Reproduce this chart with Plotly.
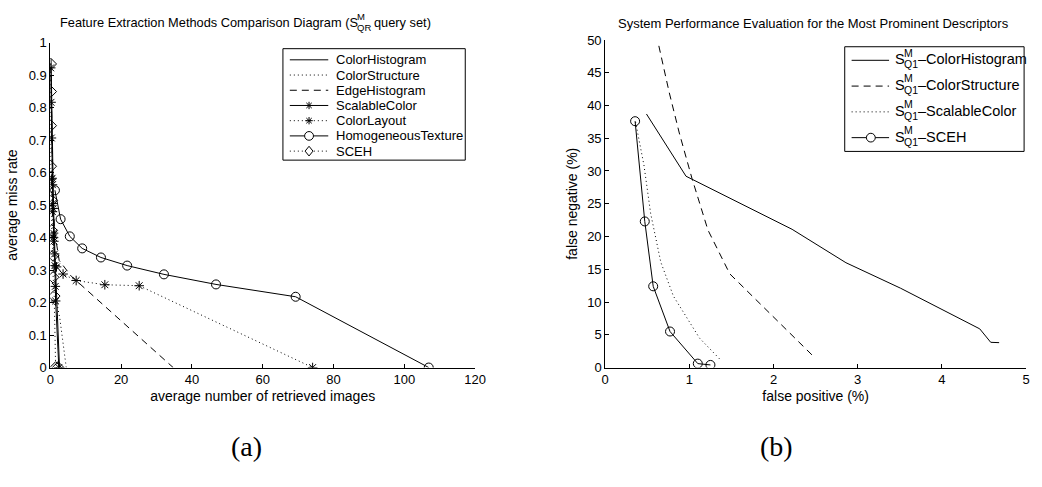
import plotly.graph_objects as go

W, H = 1042, 487

# ---------------- Left panel data (a) ----------------
ch_x = [0.2, 0.4, 0.6, 0.9, 1.3, 1.8, 2.6]
ch_y = [0.95, 0.80, 0.65, 0.50, 0.35, 0.22, 0.0]

cs_x = [0.2, 0.4, 0.7, 1.0, 1.5, 2.7, 4.5]
cs_y = [0.90, 0.70, 0.50, 0.35, 0.22, 0.15, 0.0]

eh_x = [0.2, 0.4, 0.7, 1.2, 2.5, 6.0, 7.3, 34.7]
eh_y = [0.90, 0.70, 0.55, 0.42, 0.33, 0.28, 0.268, 0.0]

sc_x = [0.1, 0.2, 0.3, 0.5, 0.6, 0.7, 0.8, 0.9, 1.0, 1.3, 1.4, 1.5, 2.4]
sc_y = [0.923, 0.817, 0.707, 0.583, 0.563, 0.505, 0.49, 0.414, 0.389, 0.314, 0.25, 0.205, 0.0]

cl_x = [0.3, 0.6, 0.9, 1.2, 1.75, 3.6, 7.3, 15.4, 25.1, 74.1]
cl_y = [0.58, 0.48, 0.40, 0.35, 0.31, 0.288, 0.268, 0.255, 0.252, 0.0]

ht_x = [1.3, 2.9, 5.5, 9.0, 14.3, 21.7, 32.1, 46.8, 69.3, 106.9]
ht_y = [0.546, 0.457, 0.404, 0.367, 0.339, 0.314, 0.287, 0.256, 0.218, 0.0]

sceh_x = [0.1, 0.1, 0.1, 0.1, 0.4, 0.4, 0.8, 0.8, 1.1, 1.5, 2.2]
sceh_y = [0.935, 0.850, 0.745, 0.620, 0.515, 0.422, 0.345, 0.278, 0.220, 0.0, 0.0]

left_names = ["ColorHistogram", "ColorStructure", "EdgeHistogram", "ScalableColor",
              "ColorLayout", "HomogeneousTexture", "SCEH"]

# ---------------- Right panel data (b) ----------------
r_ch_x = [0.49, 0.96, 2.22, 2.86, 3.51, 4.0, 4.28, 4.45, 4.58, 4.68]
r_ch_y = [38.7, 29.2, 21.1, 16.0, 12.1, 8.9, 7.1, 5.9, 3.85, 3.8]

r_cs_x = [0.637, 0.76, 0.88, 1.03, 1.22, 1.48, 2.49]
r_cs_y = [49.1, 42.0, 35.8, 28.9, 21.0, 14.3, 1.5]

r_sc_x = [0.36, 0.46, 0.54, 0.66, 0.81, 0.97, 1.12, 1.36]
r_sc_y = [37.5, 30.9, 23.5, 16.1, 10.9, 7.7, 4.5, 1.3]

r_sceh_x = [0.355, 0.47, 0.57, 0.77, 1.10, 1.25]
r_sceh_y = [37.6, 22.3, 12.4, 5.5, 0.6, 0.4]

right_names = ["–ColorHistogram", "–ColorStructure", "–ScalableColor", "–SCEH"]

FONT = "Liberation Sans"
SERIF = "Liberation Serif"
BLACK = "#000000"
DOT = "1px,3px"
DASH = "7px,5px"

fig = go.Figure()

def add(x, y, name, dash="solid", symbol=None, msize=8, xa="x", ya="y"):
    mode = "lines+markers" if symbol else "lines"
    kw = {}
    if symbol:
        kw["marker"] = dict(symbol=symbol, size=msize, color=BLACK,
                            line=dict(color=BLACK, width=1))
    fig.add_trace(go.Scatter(x=x, y=y, name=name, mode=mode,
                             line=dict(color=BLACK, width=1, dash=dash),
                             xaxis=xa, yaxis=ya, showlegend=False, **kw))

left_styles = [("solid", None), (DOT, None), (DASH, None), ("solid", "asterisk"),
               (DOT, "asterisk"), ("solid", "circle"), (DOT, "diamond")]
right_styles = [("solid", None), (DASH, None), (DOT, None), ("solid", "circle")]
sym_map = {"asterisk": ("asterisk-open", 8), "circle": ("circle-open", 9),
           "diamond": ("diamond-open", 9)}

left_data = [(ch_x, ch_y), (cs_x, cs_y), (eh_x, eh_y), (sc_x, sc_y),
             (cl_x, cl_y), (ht_x, ht_y), (sceh_x, sceh_y)]
for (x, y), name, (dash, sym) in zip(left_data, left_names, left_styles):
    s, ms = sym_map[sym] if sym else (None, 8)
    add(x, y, name, dash=dash, symbol=s, msize=ms)

right_data = [(r_ch_x, r_ch_y), (r_cs_x, r_cs_y), (r_sc_x, r_sc_y), (r_sceh_x, r_sceh_y)]
for (x, y), name, (dash, sym) in zip(right_data, right_names, right_styles):
    s, ms = sym_map[sym] if sym else (None, 8)
    add(x, y, "S^M_Q1" + name, dash=dash, symbol=s, msize=ms, xa="x2", ya="y2")

def fx(p):
    return p / W

def fy(p):
    return 1 - p / H

axis_common = dict(showline=True, linecolor=BLACK, linewidth=1, mirror=False,
                   ticks="inside", ticklen=4, tickcolor=BLACK, showgrid=False,
                   zeroline=False, tickfont=dict(family=FONT, size=13, color=BLACK),
                   title_font=dict(family=FONT, size=14, color=BLACK))

fig.update_layout(
    width=W, height=H,
    margin=dict(l=0, r=0, t=0, b=0),
    paper_bgcolor="white", plot_bgcolor="white",
    font=dict(family=FONT, size=13, color=BLACK),
    showlegend=False,
    xaxis=dict(domain=[fx(47), fx(478)], range=[0, 120], dtick=20,
               anchor="y", title=dict(text="average number of retrieved images", standoff=5),
               **axis_common),
    yaxis=dict(domain=[fy(372), fy(37)], range=[0, 1], dtick=0.1,
               anchor="x", title=dict(text="average miss rate", standoff=7),
               **axis_common),
    xaxis2=dict(domain=[fx(610), fx(1037)], range=[0, 5], dtick=1,
                anchor="y2", title=dict(text="false positive (%)", standoff=5),
                **axis_common),
    yaxis2=dict(domain=[fy(372), fy(34)], range=[0, 50], dtick=5,
                anchor="x2", title=dict(text="false negative (%)", standoff=6),
                **axis_common),
)

# ---------------- Legends (drawn as layout shapes + text) ----------------
shapes = []
annos = []

def marker_shape(kind, cx, cy):
    line = dict(color=BLACK, width=1)
    if kind == "circle":
        r = 4.5
        return dict(type="circle", xref="paper", yref="paper", x0=fx(cx - r), x1=fx(cx + r),
                    y0=fy(cy + r), y1=fy(cy - r), line=line, fillcolor="white", layer="above")
    if kind == "diamond":
        path = (f"M{fx(cx)},{fy(cy - 5)} L{fx(cx + 4)},{fy(cy)} L{fx(cx)},{fy(cy + 5)} "
                f"L{fx(cx - 4)},{fy(cy)} Z")
        return dict(type="path", xref="paper", yref="paper", path=path, line=line,
                    fillcolor="white", layer="above")
    r = 3.8
    d = r * 0.72
    path = (f"M{fx(cx - r)},{fy(cy)} L{fx(cx + r)},{fy(cy)} "
            f"M{fx(cx)},{fy(cy - r)} L{fx(cx)},{fy(cy + r)} "
            f"M{fx(cx - d)},{fy(cy - d)} L{fx(cx + d)},{fy(cy + d)} "
            f"M{fx(cx - d)},{fy(cy + d)} L{fx(cx + d)},{fy(cy - d)}")
    return dict(type="path", xref="paper", yref="paper", path=path, line=line, layer="above")

# left legend box
shapes.append(dict(type="rect", xref="paper", yref="paper", x0=fx(283), x1=fx(468),
                   y0=fy(158), y1=fy(43), line=dict(color=BLACK, width=1),
                   fillcolor="white", layer="above"))
for i, (name, (dash, sym)) in enumerate(zip(left_names, left_styles)):
    cy = 54.5 + i * 15.7
    shapes.append(dict(type="line", xref="paper", yref="paper", x0=fx(290), x1=fx(329),
                       y0=fy(cy), y1=fy(cy), line=dict(color=BLACK, width=1, dash=dash),
                       layer="above"))
    if sym:
        shapes.append(marker_shape(sym, 309.5, cy))
    annos.append(dict(text=name, x=fx(335), y=fy(cy), xanchor="left", yanchor="middle",
                      font=dict(family=FONT, size=13, color=BLACK)))

# right legend box
shapes.append(dict(type="rect", xref="paper", yref="paper", x0=fx(853), x1=fx(1035),
                   y0=fy(149), y1=fy(41), line=dict(color=BLACK, width=1),
                   fillcolor="white", layer="above"))
for i, (name, (dash, sym)) in enumerate(zip(right_names, right_styles)):
    cy = 55 + i * 26.6
    shapes.append(dict(type="line", xref="paper", yref="paper", x0=fx(860), x1=fx(898),
                       y0=fy(cy), y1=fy(cy), line=dict(color=BLACK, width=1, dash=dash),
                       layer="above"))
    if sym:
        shapes.append(marker_shape(sym, 879.5, cy))
    annos.append(dict(text="S", x=fx(902), y=fy(cy - 1), xanchor="left", yanchor="middle",
                      font=dict(family=FONT, size=14.5, color=BLACK)))
    annos.append(dict(text="M", x=fx(911), y=fy(cy - 8), xanchor="left", yanchor="middle",
                      font=dict(family=FONT, size=10.5, color=BLACK)))
    annos.append(dict(text="Q1", x=fx(911), y=fy(cy + 4), xanchor="left", yanchor="middle",
                      font=dict(family=FONT, size=10.5, color=BLACK)))
    annos.append(dict(text=name, x=fx(925), y=fy(cy - 1), xanchor="left", yanchor="middle",
                      font=dict(family=FONT, size=14.5, color=BLACK)))

# titles
annos.append(dict(text="Feature Extraction Methods Comparison Diagram (S", x=fx(361), y=fy(16),
                  xanchor="right", yanchor="middle", font=dict(family=FONT, size=12.8, color=BLACK)))
annos.append(dict(text="M", x=fx(356.5), y=fy(10), xanchor="left", yanchor="middle",
                  font=dict(family=FONT, size=9.5, color=BLACK)))
annos.append(dict(text="QR", x=fx(356.5), y=fy(21), xanchor="left", yanchor="middle",
                  font=dict(family=FONT, size=9.5, color=BLACK)))
annos.append(dict(text="query set)", x=fx(373.5), y=fy(16), xanchor="left", yanchor="middle",
                  font=dict(family=FONT, size=12.8, color=BLACK)))
annos.append(dict(text="System Performance Evaluation for the Most Prominent Descriptors",
                  x=fx(821), y=fy(17), xanchor="center", yanchor="middle",
                  font=dict(family=FONT, size=13, color=BLACK)))
annos.append(dict(text="(a)", x=fx(246), y=fy(453), xanchor="center", yanchor="middle",
                  font=dict(family=SERIF, size=28, color=BLACK)))
annos.append(dict(text="(b)", x=fx(784), y=fy(453), xanchor="center", yanchor="middle",
                  font=dict(family=SERIF, size=28, color=BLACK)))

for a in annos:
    a.update(xref="paper", yref="paper", showarrow=False)

fig.update_layout(shapes=shapes, annotations=annos)

fig.write_html("out.html")
